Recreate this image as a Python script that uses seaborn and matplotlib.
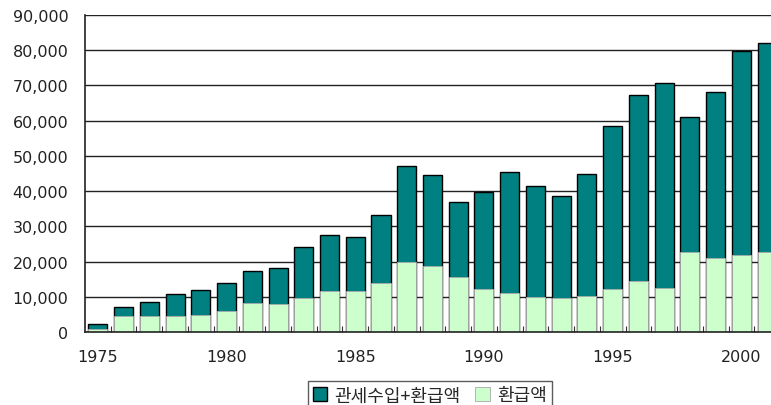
import pandas as pd
import matplotlib.pyplot as plt
import seaborn as sns
from matplotlib.ticker import FuncFormatter, FixedLocator

# 연도별 관세수입+환급액 / 환급액
years = list(range(1975, 2002))
total = [2400, 7000, 8400, 10700, 12000, 13900, 17200, 18200, 24100, 27400,
         27000, 33200, 47000, 44500, 36900, 39800, 45300, 41400, 38500, 44800,
         58600, 67300, 70600, 61100, 68000, 79800, 82100]
refund = [800, 4600, 4600, 4600, 4900, 6000, 8300, 8000, 9700, 11600,
          11600, 13900, 20000, 18800, 15700, 12300, 11200, 10000, 9700, 10300,
          12300, 14600, 12600, 22800, 21100, 22000, 22800]
label_total = '관세수입+환급액'
label_refund = '환급액'

df = pd.DataFrame({'year': [str(y) for y in years], 'total': total, 'refund': refund})

sns.set_style('white')
plt.rcParams['font.family'] = ['DejaVu Sans', 'Noto Sans CJK KR']

fig = plt.figure(figsize=(7.71, 4.06), dpi=100)
ax = fig.add_axes([0.1102, 0.1798, 0.8898, 0.7808])

sns.barplot(data=df, x='year', y='total', color='#008080', saturation=1,
            edgecolor='black', linewidth=1.0, width=0.74, label=label_total, ax=ax)
sns.barplot(data=df, x='year', y='refund', color='#CCFFCC', saturation=1,
            edgecolor='#aaaaaa', linewidth=0.6, width=0.74, label=label_refund, ax=ax)

ax.set_ylim(0, 90000)
ax.set_xlim(-0.5, 26.15)
ax.set_yticks(range(0, 90001, 10000))
ax.yaxis.set_major_formatter(FuncFormatter(lambda v, p: f'{int(v):,}'))
ax.yaxis.grid(True, color='#222222', linewidth=1.0)
ax.set_axisbelow(True)

idx = [0, 5, 10, 15, 20, 25]
ax.set_xticks(idx)
ax.set_xticklabels([str(years[i]) for i in idx])
ax.xaxis.set_minor_locator(FixedLocator([i + 0.5 for i in range(26)]))
ax.tick_params(axis='x', which='major', length=0, pad=12, labelsize=11.5, labelcolor='#222222')
ax.tick_params(axis='x', which='minor', length=4, direction='in', width=0.8, color='#333333', bottom=True)
ax.tick_params(axis='y', length=0, pad=12, labelsize=11.5, labelcolor='#222222')

ax.set_xlabel('')
ax.set_ylabel('')
for s in ['top', 'right']:
    ax.spines[s].set_visible(False)
for s in ['left', 'bottom']:
    ax.spines[s].set_color('#222222')
    ax.spines[s].set_linewidth(1.2)

leg = ax.legend(loc='upper center', bbox_to_anchor=(0.5577, 0.059), bbox_transform=fig.transFigure,
                ncol=2, frameon=True, fancybox=False, edgecolor='#333333',
                prop={'family': ['Noto Sans CJK KR'], 'size': 13},
                handlelength=0.8, handleheight=0.8, handletextpad=0.4, columnspacing=0.8,
                borderpad=0.3, borderaxespad=0)
leg.get_frame().set_linewidth(1.0)

fig.savefig('out.png', dpi=100)
